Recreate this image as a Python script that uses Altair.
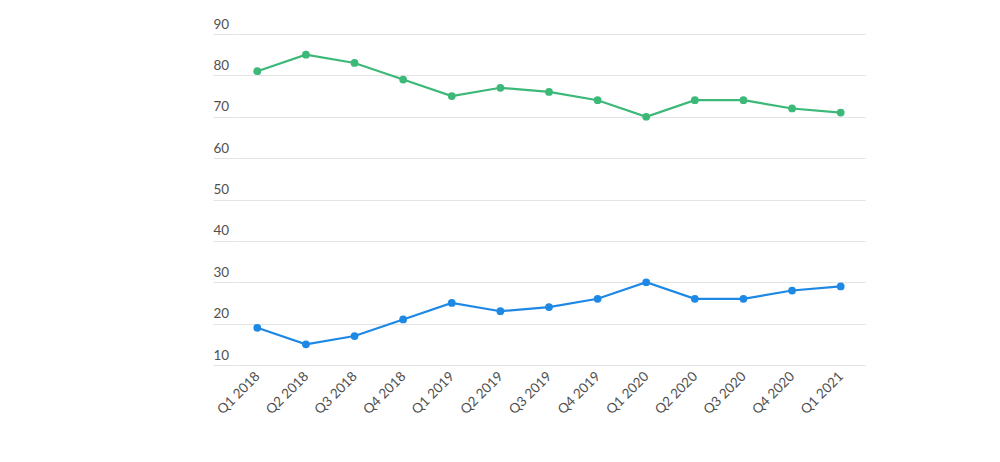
import altair as alt
import pandas as pd

quarters = ["Q1 2018", "Q2 2018", "Q3 2018", "Q4 2018", "Q1 2019", "Q2 2019", "Q3 2019",
            "Q4 2019", "Q1 2020", "Q2 2020", "Q3 2020", "Q4 2020", "Q1 2021"]
green_vals = [81, 85, 83, 79, 75, 77, 76, 74, 70, 74, 74, 72, 71]
blue_vals = [19, 15, 17, 21, 25, 23, 24, 26, 30, 26, 26, 28, 29]
series_names = ["Green", "Blue"]
series_colors = ["#3cb878", "#1e88e5"]
y_ticks = [10, 20, 30, 40, 50, 60, 70, 80, 90]

rows = []
for q, g, b in zip(quarters, green_vals, blue_vals):
    rows.append({"quarter": q, "series": series_names[0], "value": g})
    rows.append({"quarter": q, "series": series_names[1], "value": b})
df = pd.DataFrame(rows)

x = alt.X("quarter:O", sort=quarters, scale=alt.Scale(type="point", padding=0.5),
          axis=alt.Axis(title=None, labelAngle=-45, labelAlign="right", labelBaseline="middle",
                        labelFont="Lato", labelFontSize=13.5, labelColor="#505050",
                        ticks=False, domain=False, grid=False, labelPadding=9))
y = alt.Y("value:Q", scale=alt.Scale(domain=[10, 90], nice=False, zero=False),
          axis=alt.Axis(title=None, values=y_ticks, grid=True, gridColor="#e3e3e3",
                        domain=False, tickSize=20, tickColor="#e3e3e3",
                        labelAlign="left", labelBaseline="bottom", labelOffset=-3,
                        labelPadding=0, labelFont="Lato", labelFontSize=13.5,
                        labelColor="#505050"))
color = alt.Color("series:N", scale=alt.Scale(domain=series_names, range=series_colors), legend=None)

base = alt.Chart(df).encode(x=x, y=y, color=color, detail="series:N")
lines = base.mark_line(strokeWidth=2.2)
points = base.mark_circle(size=60, opacity=1)

chart = (lines + points).properties(
    width=632, height=331,
    autosize=alt.AutoSizeParams(type="none"),
    padding={"left": 233, "top": 34, "right": 135, "bottom": 97},
    background="white",
).configure_view(stroke=None, strokeWidth=0)

chart.save("out.html", embed_options={"renderer": "svg", "actions": False})
